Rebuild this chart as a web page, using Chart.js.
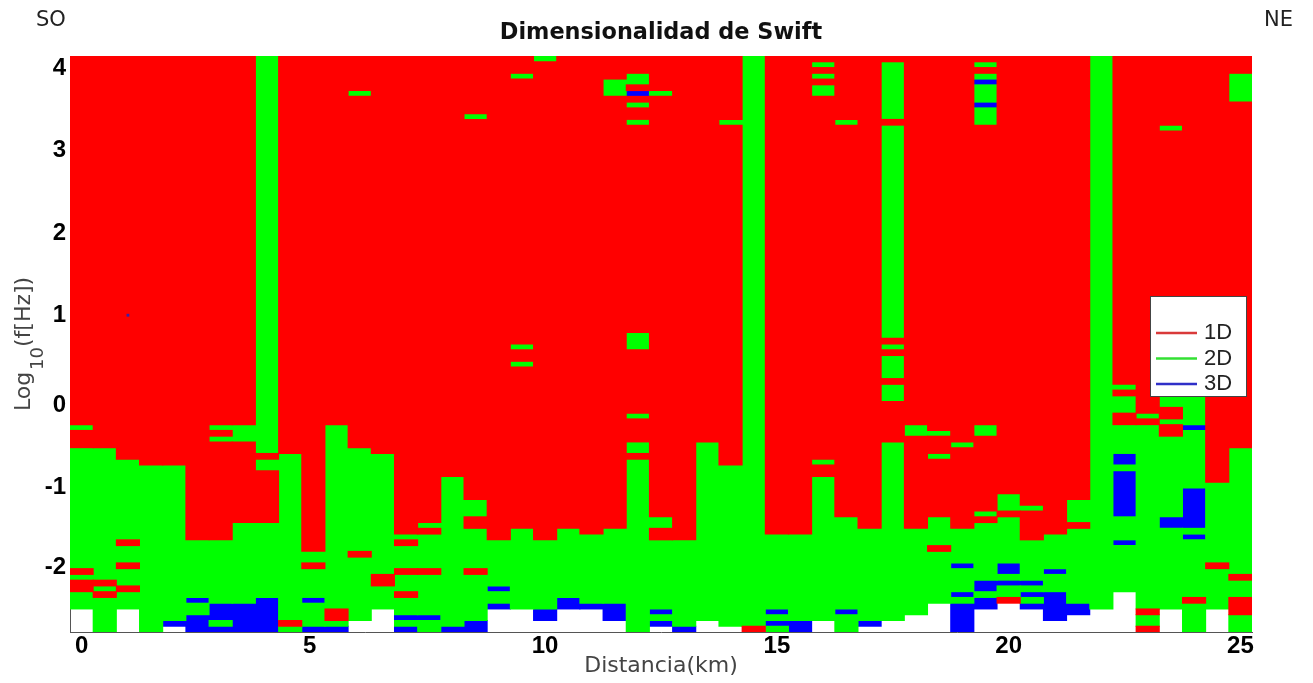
<!DOCTYPE html>
<html>
<head>
<meta charset="utf-8">
<title>Dimensionalidad de Swift</title>
<script src="https://cdn.jsdelivr.net/npm/chart.js@4"></script>
<style>
  html, body { margin: 0; padding: 0; background: #fff; overflow: hidden; }
  canvas { display: block; }
</style>
</head>
<body>
<canvas id="swift-chart" width="1313" height="683"></canvas>
<script>
// distancia de cada sondeo (km)
const distanciaKm = [
  0, 0.5, 1, 1.5, 2, 2.5, 3, 3.5, 4, 4.5,
  5, 5.5, 6, 6.5, 7, 7.5, 8, 8.5, 9, 9.5,
  10, 10.5, 11, 11.5, 12, 12.5, 13, 13.5, 14, 14.5,
  15, 15.5, 16, 16.5, 17, 17.5, 18, 18.5, 19, 19.5,
  20, 20.5, 21, 21.5, 22, 22.5, 23, 23.5, 24, 24.5, 25
];

// dimensionalidad por sondeo, de baja a alta frecuencia: clase + numero de filas
// r = 1D, g = 2D, b = 3D, w = sin dato
const dimensionalidad = [
  'w4 g3 r2 g1 r1 g21 r3 g1 r64',
  'g6 r1 g1 r1 g23 r68',
  'w4 g3 r1 g3 r1 g3 r1 g14 r70',
  'g29 r71',
  'w1 b1 g27 r71',
  'b3 g2 b1 g10 r84',
  'b1 g1 b3 g11 r17 g1 r1 g1 r64',
  'b5 g14 r14 g3 r64',
  'b6 g13 r9 g2 r1 g69',
  'g1 r1 g29 r69',
  'b1 g4 b1 g5 r1 g2 r86',
  'b1 g1 r2 g32 r64',
  'w2 g11 r1 g18 r61 g1 r6',
  'w4 g4 r2 g21 r69',
  'b1 g1 b1 g3 r1 g3 r1 g4 r1 g1 r83',
  'g2 b1 g7 r1 g6 r1 g1 r81',
  'b1 g26 r73',
  'b2 g8 r1 g7 r2 g3 r66 g1 r10',
  'w4 b1 g2 b1 g8 r84',
  'w4 g14 r28 g1 r2 g1 r46 g1 r3',
  'w2 b2 g12 r83 g1',
  'w4 b2 g12 r82',
  'w4 b1 g12 r83',
  'w2 b3 g13 r75 g3 r4',
  'g30 r1 g2 r4 g1 r11 g3 r36 g1 r2 g1 r1 b1 r1 g2 r3',
  'w1 b1 g1 b1 g12 r2 g2 r73 g1 r6',
  'b1 g15 r84',
  'w2 g31 r67',
  'w1 g28 r59 g1 r11',
  'r1 g99',
  'g1 b1 g1 b1 g13 r83',
  'b2 g15 r83',
  'w2 g25 r2 g1 r63 g2 r1 g1 r1 g1 r1',
  'g3 b1 g16 r68 g1 r11',
  'w1 b1 g16 r82',
  'w2 g31 r7 g3 r1 g4 r1 g1 r1 g37 r1 g10 r1',
  'w3 g15 r16 g2 r64',
  'w5 g9 r1 g5 r10 g1 r3 g1 r65',
  'b5 g1 b1 g4 b1 g6 r14 g1 r67',
  'w4 b2 g1 b2 g10 r1 g1 r13 g2 r52 g3 b1 g3 b1 g1 r1 g1 r1',
  'w5 r1 g2 b1 g1 b2 g8 r1 g3 r76',
  'w4 b1 g1 b1 g1 b1 g7 r5 g1 r78',
  'w2 b5 g3 b1 g6 r83',
  'w3 b2 g13 r1 g4 r77',
  'w4 g96',
  'w7 g8 b1 g4 b8 g1 b2 g5 r2 g3 r1 g1 r57',
  'r1 g2 r1 g32 r1 g1 r62',
  'w4 g14 b2 g14 r2 g1 r2 g2 r46 g1 r12',
  'g5 r1 g10 b1 g1 b7 g10 b1 g6 r58',
  'w4 g7 r1 g14 r74',
  'g3 r3 g3 r1 g22 r60 g5 r3'
];

// celda suelta 3D
const puntoAislado = [{ x: 1, y: 1 }];

const log10fMin = -2.85;
const log10fMax = 4.15;
const pasoLog10f = 0.07;

// las etiquetas del original no caen justo en su valor
const xTicks = [0, 4.92, 10, 15, 20, 25];
const xTickLabels = ['0', '5', '10', '15', '20', '25'];
const yTicks = [4, 3, 2, 1, -0.09, -1.09, -2.07];
const yTickLabels = ['4', '3', '2', '1', '0', '-1', '-2'];

const clases = [
  { code: 'r', label: '1D', color: '#ff0000', line: '#d93a3a' },
  { code: 'g', label: '2D', color: '#00ff00', line: '#33e033' },
  { code: 'b', label: '3D', color: '#0000ff', line: '#2f2fc8' }
];

function segmentos(code) {
  const out = [];
  distanciaKm.forEach((km, i) => {
    let fila = 0;
    dimensionalidad[i].split(' ').forEach(tramo => {
      const n = parseInt(tramo.slice(1), 10);
      if (tramo[0] === code) {
        out.push({ x: km, y: [log10fMin + fila * pasoLog10f, log10fMin + (fila + n) * pasoLog10f] });
      }
      fila += n;
    });
  });
  return out;
}

const datasets = clases.map(c => ({
  label: c.label,
  data: segmentos(c.code),
  backgroundColor: c.color,
  borderWidth: 0,
  inflateAmount: 0.5,
  stack: 'sondeo',
  barPercentage: 1,
  categoryPercentage: 1
}));

datasets.push({
  type: 'scatter',
  label: '3D puntual',
  data: puntoAislado,
  order: -1,
  pointStyle: 'rect',
  pointRadius: 2,
  pointBorderWidth: 0,
  backgroundColor: '#3a1fa8'
});

// textos sueltos: SO / NE, eje Y con subindice y leyenda dentro del grafico
const anotaciones = {
  id: 'anotaciones',
  afterDraw(chart) {
    const ctx = chart.ctx;
    ctx.save();

    ctx.fillStyle = '#222';
    ctx.font = '21px "DejaVu Sans"';
    ctx.textBaseline = 'alphabetic';
    ctx.textAlign = 'left';
    ctx.fillText('SO', 36, 26);
    ctx.fillText('NE', 1264, 26);

    ctx.save();
    ctx.translate(30, 411);
    ctx.rotate(-Math.PI / 2);
    ctx.fillStyle = '#444';
    ctx.font = '22px "DejaVu Sans"';
    ctx.fillText('Log', 0, 0);
    ctx.fillText('(f[Hz])', 64, 0);
    ctx.font = '18px "DejaVu Sans"';
    ctx.fillText('10', 41, 13);
    ctx.restore();

    ctx.fillStyle = '#fff';
    ctx.strokeStyle = '#444';
    ctx.lineWidth = 1;
    ctx.fillRect(1150, 296, 96, 100);
    ctx.strokeRect(1150.5, 296.5, 96, 100);
    ctx.font = '22px "Liberation Sans"';
    ctx.textBaseline = 'middle';
    clases.forEach((c, i) => {
      const y = 333 + i * 25.5;
      ctx.strokeStyle = c.line;
      ctx.lineWidth = 2.5;
      ctx.beginPath();
      ctx.moveTo(1156, y);
      ctx.lineTo(1197, y);
      ctx.stroke();
      ctx.fillStyle = '#222';
      ctx.fillText(c.label, 1204, y);
    });
    ctx.restore();
  }
};

new Chart(document.getElementById('swift-chart').getContext('2d'), {
  type: 'bar',
  data: { datasets: datasets },
  plugins: [anotaciones],
  options: {
    responsive: false,
    animation: false,
    layout: { padding: { right: 61 } },
    plugins: {
      legend: { display: false },
      tooltip: { enabled: false },
      title: {
        display: true,
        text: 'Dimensionalidad de Swift',
        fullSize: false,
        color: '#111',
        font: { family: '"DejaVu Sans"', size: 22.4, weight: 'bold', lineHeight: 1.1 },
        padding: { top: 20.5, bottom: 10.9 }
      }
    },
    scales: {
      x: {
        type: 'linear',
        offset: false,
        stacked: true,
        min: -0.25,
        max: 25.25,
        grid: { display: false, drawTicks: false },
        border: { color: '#555', width: 1 },
        afterBuildTicks: s => { s.ticks = xTicks.map(v => ({ value: v })); },
        afterFit: s => { s.height = 51; },
        ticks: {
          autoSkip: false,
          maxRotation: 0,
          padding: 0,
          color: '#000',
          font: { family: '"Liberation Sans"', size: 24, weight: 'bold' },
          callback: (value, i) => xTickLabels[i]
        },
        title: {
          display: true,
          text: 'Distancia(km)',
          color: '#444',
          font: { family: '"DejaVu Sans"', size: 22 },
          padding: { top: 0, bottom: 4 }
        }
      },
      y: {
        type: 'linear',
        stacked: false,
        min: log10fMin,
        max: log10fMax,
        grid: { display: false, drawTicks: false },
        border: { color: '#555', width: 1 },
        afterBuildTicks: s => { s.ticks = yTicks.map(v => ({ value: v })); },
        afterFit: s => { s.width = 70; },
        ticks: {
          autoSkip: false,
          padding: 4,
          color: '#000',
          font: { family: '"Liberation Sans"', size: 24, weight: 'bold' },
          callback: (value, i) => yTickLabels[i]
        }
      }
    }
  }
});
</script>
</body>
</html>
